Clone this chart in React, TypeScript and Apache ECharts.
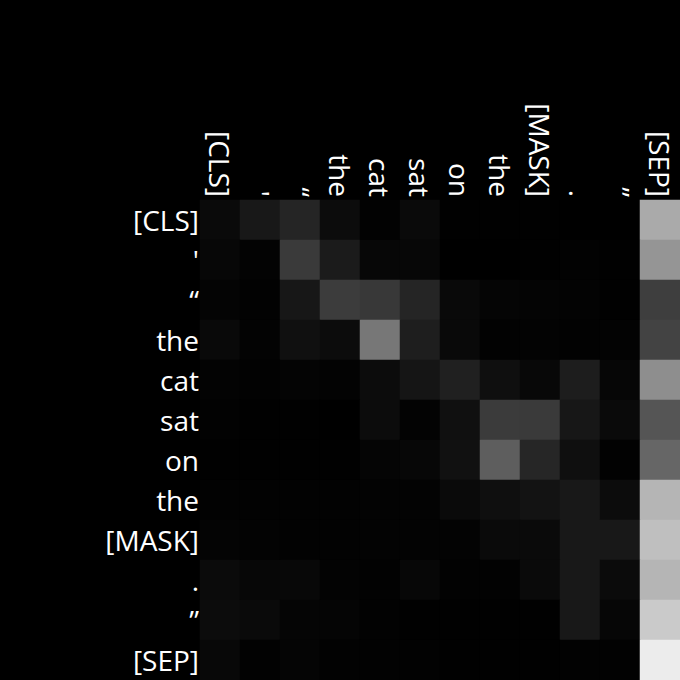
import React, { useEffect, useRef } from "react";
import * as echarts from "echarts";

const tokens = ["[CLS]", "'", "“", "the", "cat", "sat", "on", "the", "[MASK]", ".", "”", "[SEP]"];

// attention weights, row = query token, column = key token
const row0 = [0.04, 0.094, 0.145, 0.047, 0.008, 0.04, 0.004, 0.004, 0.004, 0.0, 0.0, 0.667];
const row1 = [0.027, 0.012, 0.227, 0.106, 0.027, 0.027, 0.0, 0.0, 0.004, 0.008, 0.004, 0.584];
const row2 = [0.016, 0.008, 0.09, 0.235, 0.22, 0.145, 0.035, 0.02, 0.016, 0.012, 0.004, 0.243];
const row3 = [0.035, 0.012, 0.063, 0.047, 0.467, 0.118, 0.035, 0.008, 0.012, 0.008, 0.012, 0.263];
const row4 = [0.012, 0.008, 0.016, 0.012, 0.047, 0.082, 0.125, 0.059, 0.031, 0.114, 0.024, 0.557];
const row5 = [0.008, 0.004, 0.004, 0.0, 0.047, 0.012, 0.063, 0.231, 0.227, 0.09, 0.039, 0.333];
const row6 = [0.004, 0.004, 0.004, 0.004, 0.02, 0.027, 0.067, 0.369, 0.149, 0.059, 0.008, 0.4];
const row7 = [0.008, 0.008, 0.008, 0.008, 0.012, 0.012, 0.039, 0.059, 0.075, 0.094, 0.047, 0.71];
const row8 = [0.016, 0.012, 0.008, 0.008, 0.012, 0.012, 0.012, 0.039, 0.039, 0.094, 0.094, 0.749];
const row9 = [0.043, 0.027, 0.031, 0.012, 0.008, 0.027, 0.008, 0.008, 0.039, 0.094, 0.043, 0.71];
const row10 = [0.047, 0.039, 0.02, 0.02, 0.008, 0.004, 0.004, 0.004, 0.004, 0.094, 0.024, 0.792];
const row11 = [0.031, 0.008, 0.02, 0.008, 0.008, 0.008, 0.004, 0.004, 0.004, 0.008, 0.008, 0.925];

const rows = [row0, row1, row2, row3, row4, row5, row6, row7, row8, row9, row10, row11];

export default function App() {
  const ref = useRef<HTMLDivElement>(null);
  useEffect(() => {
    if (!ref.current) return;
    const chart = echarts.init(ref.current, undefined, { renderer: "svg" });
    const data: [number, number, number][] = [];
    rows.forEach((r, i) => r.forEach((v, j) => data.push([j, i, v])));
    const labelStyle = {
      color: "#ffffff",
      fontSize: 28,
      fontFamily: "Open Sans",
    };
    chart.setOption({
      animation: false,
      backgroundColor: "#000000",
      grid: { left: 200, top: 200, width: 480, height: 480, containLabel: false },
      xAxis: {
        type: "category",
        position: "top",
        data: tokens,
        axisLine: { show: false },
        axisTick: { show: false },
        splitLine: { show: false },
        axisLabel: { ...labelStyle, rotate: 90, interval: 0, margin: 3, padding: [8, 0, 0, 0] },
      },
      yAxis: {
        type: "category",
        inverse: true,
        data: tokens,
        axisLine: { show: false },
        axisTick: { show: false },
        splitLine: { show: false },
        axisLabel: { ...labelStyle, interval: 0, margin: 1 },
      },
      visualMap: {
        show: false,
        min: 0,
        max: 1,
        dimension: 2,
        inRange: { color: ["#000000", "#ffffff"] },
      },
      series: [
        {
          type: "heatmap",
          data,
          itemStyle: { borderWidth: 0 },
          emphasis: { disabled: true },
        },
      ],
    });
    return () => chart.dispose();
  }, []);
  return (
    <div
      ref={ref}
      style={{ position: "fixed", left: 0, top: 0, width: 680, height: 680, background: "#000" }}
    />
  );
}
